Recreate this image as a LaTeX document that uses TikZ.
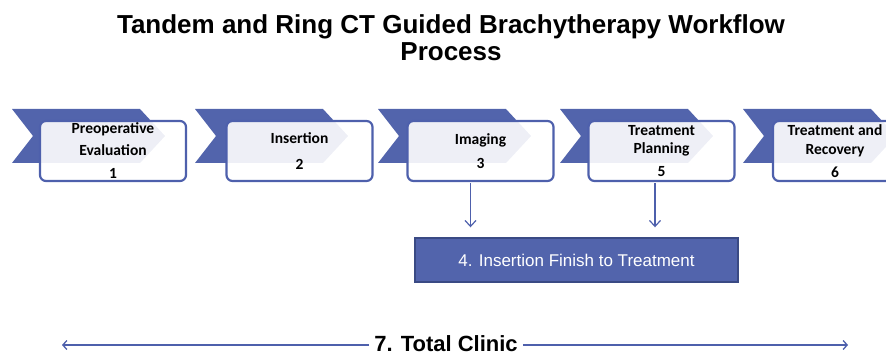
\documentclass[tikz,border=0pt]{standalone}
\usepackage{fontspec}
\setmainfont{Liberation Sans}
\newfontfamily\calfont{Carlito}
\usetikzlibrary{arrows.meta}
\definecolor{chevblue}{RGB}{82,100,172}
\definecolor{edgeblue}{RGB}{78,96,172}
\definecolor{darkrim}{RGB}{58,74,132}
% chevron behind each step box, #1 = left x
\newcommand{\chev}[1]{%
  \fill[chevblue] (#1,109) -- ++(128,0) -- ++(25,27) -- ++(-25,27) -- ++(-128,0) -- ++(21,-27) -- cycle;}

\begin{document}
\begin{tikzpicture}[x=1pt,y=-1pt,
  stepbox/.style={draw=edgeblue,line width=2.2pt,rounded corners=6pt,
                  fill=white,fill opacity=0.9,text opacity=1,
                  minimum width=146pt,minimum height=60pt,align=center,inner sep=1pt,
                  font=\calfont\bfseries\fontsize{15.5}{22}\selectfont},
  finbox/.style={draw=darkrim,line width=1.4pt,fill=chevblue,text=white,
                 minimum width=323pt,minimum height=44pt,
                 font=\fontsize{17}{20}\selectfont},
  downarr/.style={line width=1.2pt,edgeblue,-{Straight Barb[length=6pt,width=11pt]}},
  spanarr/.style={line width=1.3pt,edgeblue,-{Straight Barb[length=4pt,width=9pt]}}]

  \useasboundingbox (0,0) rectangle (886,358);

  % ===== title =====
  \node[font=\bfseries\fontsize{26}{27}\selectfont,align=center] (title) at (451,38)
    {Tandem and Ring CT Guided Brachytherapy Workflow\\Process};

  % ===== chevrons =====
  \chev{12} \chev{195} \chev{378} \chev{560} \chev{743}

  % ===== steps =====
  \node[stepbox] (pre)  at (113,151)   {Preoperative\\Evaluation\\[1pt]1};
  \node[stepbox] (ins)  at (299.5,151) {Insertion\\[4pt]2};
  \node[stepbox] (img)  at (480.5,151) {Imaging\\[2pt]3};
  \node[stepbox] (plan) at (661.5,151) {Treatment\\[-4pt]Planning\\[1pt]5};
  \node[stepbox,minimum width=124pt] (rec) at (835,151) {Treatment and\\[-3pt]Recovery\\[1pt]6};

  % ===== insertion finish to treatment =====
  \node[finbox] (fin) at (576.5,260) {4. Insertion Finish to Treatment};
  \draw[downarr,shorten <=1pt,shorten >=10pt] ([xshift=-10pt]img.south)
     -- ([xshift=-10pt]img.south |- fin.north);
  \draw[downarr,shorten <=1pt,shorten >=10pt] ([xshift=-6.5pt]plan.south)
     -- ([xshift=-6.5pt]plan.south |- fin.north);

  % ===== total clinic =====
  \node[font=\bfseries\fontsize{22}{22}\selectfont,inner xsep=5pt,inner ysep=0pt,anchor=base] (total)
    at (446,351) {7. Total Clinic};
  \coordinate (cl) at (62,345);
  \coordinate (cr) at (848,345);
  \draw[spanarr] (total.west |- cl) -- (cl);
  \draw[spanarr] (total.east |- cr) -- (cr);

\end{tikzpicture}
\end{document}
